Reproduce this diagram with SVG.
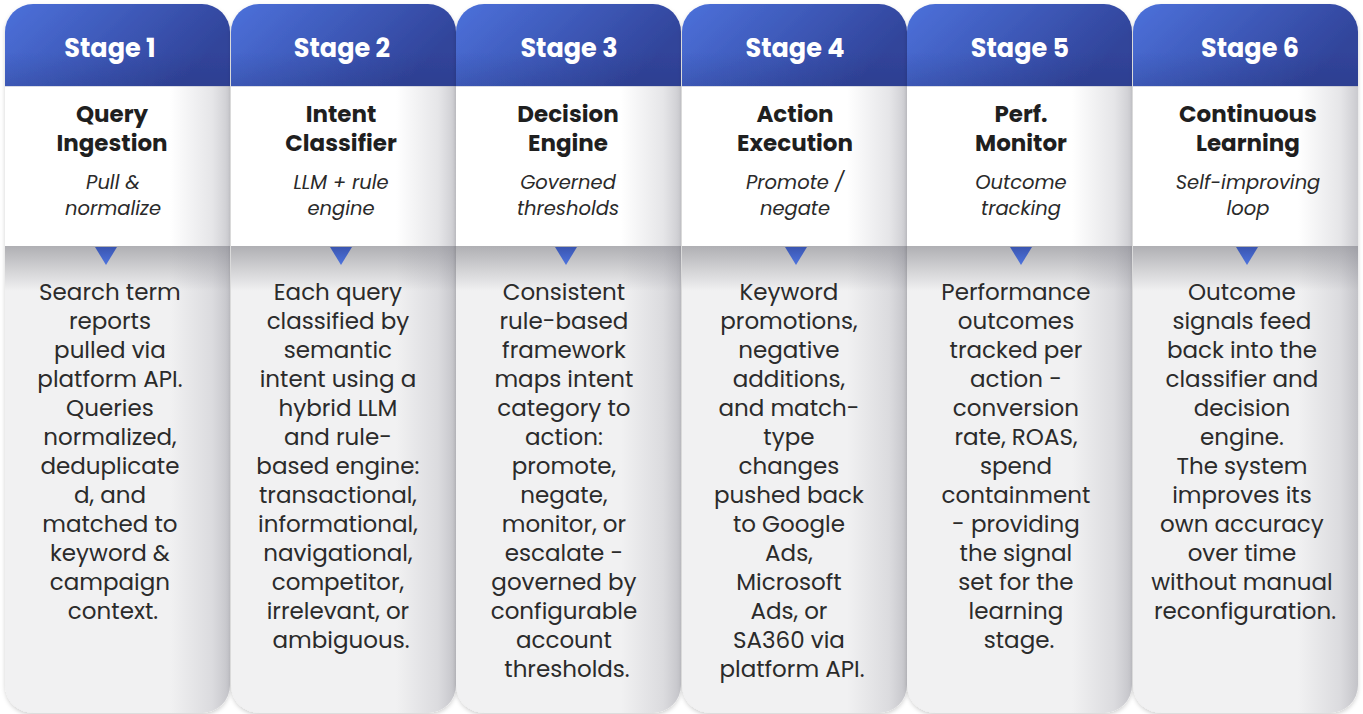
<svg xmlns="http://www.w3.org/2000/svg" width="1363" height="714" viewBox="0 0 1363 714">
  <defs>
    <!-- shape of one stage column, drawn at the origin and positioned per column -->
    <path id="colShape" d="M0,32 A28,28 0 0 1 28,4 H197 A28,28 0 0 1 225,32 V685 A28,28 0 0 1 197,713 H28 A28,28 0 0 1 0,685 Z"/>
    <clipPath id="colClip"><use href="#colShape"/></clipPath>

    <linearGradient id="headGrad" x1="0" y1="0" x2="1" y2="0.4">
      <stop offset="0" stop-color="#4d72dc"/>
      <stop offset="1" stop-color="#31449a"/>
    </linearGradient>
    <linearGradient id="headShade" x1="0" y1="0" x2="0" y2="1">
      <stop offset="0.6" stop-color="#1c2a6a" stop-opacity="0"/>
      <stop offset="1" stop-color="#1c2a6a" stop-opacity="0.18"/>
    </linearGradient>
    <linearGradient id="sideShade" x1="0" y1="0" x2="1" y2="0">
      <stop offset="0" stop-color="#9a9aa4" stop-opacity="0"/>
      <stop offset="0.7" stop-color="#9a9aa4" stop-opacity="0.25"/>
      <stop offset="1" stop-color="#8a8a94" stop-opacity="0.45"/>
    </linearGradient>
    <linearGradient id="bandShade" x1="0" y1="0" x2="0" y2="1">
      <stop offset="0" stop-color="#7a7a80" stop-opacity="0.55"/>
      <stop offset="1" stop-color="#7a7a80" stop-opacity="0"/>
    </linearGradient>
    <linearGradient id="triGrad" x1="0" y1="0" x2="0" y2="1">
      <stop offset="0" stop-color="#3a55b0"/>
      <stop offset="1" stop-color="#4e74de"/>
    </linearGradient>
    <filter id="drop" x="-5%" y="-5%" width="110%" height="110%">
      <feDropShadow dx="0" dy="2" stdDeviation="2" flood-color="#000" flood-opacity="0.18"/>
    </filter>

    <!-- panels shared by every column -->
    <g id="panel">
      <g clip-path="url(#colClip)">
        <rect x="0" y="0" width="225" height="86" fill="url(#headGrad)"/>
        <rect x="0" y="0" width="225" height="86" fill="url(#headShade)"/>
        <rect x="0" y="86" width="225" height="160" fill="#ffffff"/>
        <rect x="0" y="86" width="225" height="1" fill="#d9dbe6"/>
        <rect x="0" y="246" width="225" height="470" fill="#f1f1f2"/>
        <rect x="0" y="246" width="225" height="45" fill="url(#bandShade)"/>
        <rect x="165" y="86" width="60" height="630" fill="url(#sideShade)"/>
      </g>
    </g>
  </defs>

  <style>
    .stage { font-family: "Poppins", Inter, "Liberation Sans", sans-serif; font-weight: 700; font-size: 25.5px; fill: #ffffff; text-anchor: middle; }
    .title { font-family: "Poppins", Inter, "Liberation Sans", sans-serif; font-weight: 700; font-size: 23px; fill: #1f1f1f; text-anchor: middle; }
    .sub { font-family: "Poppins", Inter, "Liberation Sans", sans-serif; font-style: italic; font-size: 19.5px; fill: #2a2a2a; text-anchor: middle; }
    .body { font-family: "Poppins", Inter, "Liberation Sans", sans-serif; font-size: 23px; fill: #2b2b2b; text-anchor: middle; }
    .tri { fill: url(#triGrad); }
  </style>

  <rect width="1363" height="714" fill="#ffffff"/>

  <!-- Stage 1 -->
  <g id="stage1">
    <use href="#panel" x="5" filter="url(#drop)"/>
    <path class="tri" d="M95,247 H117 L106,265 Z"/>
    <text class="stage" x="110" y="57">Stage 1</text>
    <text class="title" x="112" y="122">Query</text>
    <text class="title" x="112" y="151">Ingestion</text>
    <text class="sub" x="113" y="189">Pull &amp;</text>
    <text class="sub" x="113" y="215">normalize</text>
    <text class="body" x="113">
      <tspan x="113" y="300">Search term</tspan>
      <tspan x="113" y="329">reports</tspan>
      <tspan x="113" y="358">pulled via</tspan>
      <tspan x="113" y="387">platform API.</tspan>
      <tspan x="113" y="416">Queries</tspan>
      <tspan x="113" y="445">normalized,</tspan>
      <tspan x="113" y="474">deduplicate</tspan>
      <tspan x="113" y="503">d, and</tspan>
      <tspan x="113" y="532">matched to</tspan>
      <tspan x="113" y="561">keyword &amp;</tspan>
      <tspan x="113" y="590">campaign</tspan>
      <tspan x="113" y="619">context.</tspan>
    </text>
  </g>

  <!-- Stage 2 -->
  <g id="stage2">
    <use href="#panel" x="231" filter="url(#drop)"/>
    <path class="tri" d="M330,247 H352 L341,265 Z"/>
    <text class="stage" x="342" y="57">Stage 2</text>
    <text class="title" x="341" y="122">Intent</text>
    <text class="title" x="341" y="151">Classifier</text>
    <text class="sub" x="341" y="189">LLM + rule</text>
    <text class="sub" x="341" y="215">engine</text>
    <text class="body">
      <tspan x="341" y="300">Each query</tspan>
      <tspan x="341" y="329">classified by</tspan>
      <tspan x="341" y="358">semantic</tspan>
      <tspan x="341" y="387">intent using a</tspan>
      <tspan x="341" y="416">hybrid LLM</tspan>
      <tspan x="341" y="445">and rule-</tspan>
      <tspan x="341" y="474">based engine:</tspan>
      <tspan x="341" y="503">transactional,</tspan>
      <tspan x="341" y="532">informational,</tspan>
      <tspan x="341" y="561">navigational,</tspan>
      <tspan x="341" y="590">competitor,</tspan>
      <tspan x="341" y="619">irrelevant, or</tspan>
      <tspan x="341" y="648">ambiguous.</tspan>
    </text>
  </g>

  <!-- Stage 3 -->
  <g id="stage3">
    <use href="#panel" x="456" filter="url(#drop)"/>
    <path class="tri" d="M555,247 H577 L566,265 Z"/>
    <text class="stage" x="569" y="57">Stage 3</text>
    <text class="title" x="568" y="122">Decision</text>
    <text class="title" x="568" y="151">Engine</text>
    <text class="sub" x="568" y="189">Governed</text>
    <text class="sub" x="568" y="215">thresholds</text>
    <text class="body">
      <tspan x="567" y="300">Consistent</tspan>
      <tspan x="567" y="329">rule-based</tspan>
      <tspan x="567" y="358">framework</tspan>
      <tspan x="567" y="387">maps intent</tspan>
      <tspan x="567" y="416">category to</tspan>
      <tspan x="567" y="445">action:</tspan>
      <tspan x="567" y="474">promote,</tspan>
      <tspan x="567" y="503">negate,</tspan>
      <tspan x="567" y="532">monitor, or</tspan>
      <tspan x="567" y="561">escalate -</tspan>
      <tspan x="567" y="590">governed by</tspan>
      <tspan x="567" y="619">configurable</tspan>
      <tspan x="567" y="648">account</tspan>
      <tspan x="567" y="677">thresholds.</tspan>
    </text>
  </g>

  <!-- Stage 4 -->
  <g id="stage4">
    <use href="#panel" x="682" filter="url(#drop)"/>
    <path class="tri" d="M785,247 H807 L796,265 Z"/>
    <text class="stage" x="795" y="57">Stage 4</text>
    <text class="title" x="795" y="122">Action</text>
    <text class="title" x="795" y="151">Execution</text>
    <text class="sub" x="795" y="189">Promote /</text>
    <text class="sub" x="795" y="215">negate</text>
    <text class="body">
      <tspan x="792" y="300">Keyword</tspan>
      <tspan x="792" y="329">promotions,</tspan>
      <tspan x="792" y="358">negative</tspan>
      <tspan x="792" y="387">additions,</tspan>
      <tspan x="792" y="416">and match-</tspan>
      <tspan x="792" y="445">type</tspan>
      <tspan x="792" y="474">changes</tspan>
      <tspan x="792" y="503">pushed back</tspan>
      <tspan x="792" y="532">to Google</tspan>
      <tspan x="792" y="561">Ads,</tspan>
      <tspan x="792" y="590">Microsoft</tspan>
      <tspan x="792" y="619">Ads, or</tspan>
      <tspan x="792" y="648">SA360 via</tspan>
      <tspan x="792" y="677">platform API.</tspan>
    </text>
  </g>

  <!-- Stage 5 -->
  <g id="stage5">
    <use href="#panel" x="907" filter="url(#drop)"/>
    <path class="tri" d="M1010,247 H1032 L1021,265 Z"/>
    <text class="stage" x="1020" y="57">Stage 5</text>
    <text class="title" x="1021" y="122">Perf.</text>
    <text class="title" x="1021" y="151">Monitor</text>
    <text class="sub" x="1021" y="189">Outcome</text>
    <text class="sub" x="1021" y="215">tracking</text>
    <text class="body">
      <tspan x="1019" y="300">Performance</tspan>
      <tspan x="1019" y="329">outcomes</tspan>
      <tspan x="1019" y="358">tracked per</tspan>
      <tspan x="1019" y="387">action -</tspan>
      <tspan x="1019" y="416">conversion</tspan>
      <tspan x="1019" y="445">rate, ROAS,</tspan>
      <tspan x="1019" y="474">spend</tspan>
      <tspan x="1019" y="503">containment</tspan>
      <tspan x="1019" y="532">- providing</tspan>
      <tspan x="1019" y="561">the signal</tspan>
      <tspan x="1019" y="590">set for the</tspan>
      <tspan x="1019" y="619">learning</tspan>
      <tspan x="1019" y="648">stage.</tspan>
    </text>
  </g>

  <!-- Stage 6 -->
  <g id="stage6">
    <use href="#panel" x="1133" filter="url(#drop)"/>
    <path class="tri" d="M1236,247 H1258 L1247,265 Z"/>
    <text class="stage" x="1250" y="57">Stage 6</text>
    <text class="title" x="1248" y="122">Continuous</text>
    <text class="title" x="1248" y="151">Learning</text>
    <text class="sub" x="1248" y="189">Self-improving</text>
    <text class="sub" x="1248" y="215">loop</text>
    <text class="body">
      <tspan x="1245" y="300">Outcome</tspan>
      <tspan x="1245" y="329">signals feed</tspan>
      <tspan x="1245" y="358">back into the</tspan>
      <tspan x="1245" y="387">classifier and</tspan>
      <tspan x="1245" y="416">decision</tspan>
      <tspan x="1245" y="445">engine.</tspan>
      <tspan x="1245" y="474">The system</tspan>
      <tspan x="1245" y="503">improves its</tspan>
      <tspan x="1245" y="532">own accuracy</tspan>
      <tspan x="1245" y="561">over time</tspan>
      <tspan x="1245" y="590">without manual</tspan>
      <tspan x="1245" y="619">reconfiguration.</tspan>
    </text>
  </g>

  <!-- the stages are laid out side by side; no separate connectors are drawn -->
  <g id="connectors"/>
</svg>
